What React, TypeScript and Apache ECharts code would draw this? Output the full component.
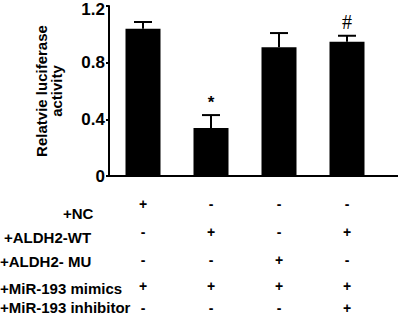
import React, { useEffect, useRef } from "react";
import * as echarts from "echarts";

const categories = ["G1", "G2", "G3", "G4"];
const values = [1.04, 0.339, 0.908, 0.948];
const errors = [0.047, 0.091, 0.101, 0.042];
const marks = ["", "*", "", "#"];
const yTicks = [0, 0.4, 0.8, 1.2];
const rowLabels = ["+NC", "+ALDH2-WT", "+ALDH2- MU", "+MiR-193 mimics", "+MiR-193 inhibitor"];
const signs = [
  ["+", "-", "-", "-"],
  ["-", "+", "-", "+"],
  ["-", "-", "+", "-"],
  ["+", "+", "+", "+"],
  ["-", "-", "-", "+"],
];

const rowLabelPos = [
  { x: 63, y: 213 },
  { x: 4, y: 237 },
  { x: 0, y: 261 },
  { x: 0, y: 288 },
  { x: 0, y: 307 },
];
const signRowY = [204, 232, 260, 286, 308];

const FONT = "Liberation Sans, Arial, sans-serif";

export default function App() {
  const ref = useRef<HTMLDivElement>(null);
  useEffect(() => {
    if (!ref.current) return;
    const chart = echarts.init(ref.current, undefined, { renderer: "svg" });
    const baseGraphic: any[] = [
      {
        type: "line",
        shape: { x1: 380, y1: 176, x2: 398, y2: 176 },
        style: { stroke: "#000", lineWidth: 2 },
      },
      ...rowLabels.map((t, i) => ({
        type: "text",
        x: rowLabelPos[i].x,
        y: rowLabelPos[i].y,
        style: {
          text: t,
          fill: "#000",
          fontFamily: FONT,
          fontWeight: "bold",
          fontSize: 15,
          lineHeight: 12,
          verticalAlign: "middle",
        },
      })),
    ];
    const maxTick = yTicks[yTicks.length - 1];
    const option: any = {
      animation: false,
      backgroundColor: "#ffffff",
      grid: { left: 109, top: 6, width: 272, bottom: 140, outerBoundsMode: "none", containLabel: false },
      xAxis: {
        type: "category",
        data: categories,
        axisLine: { lineStyle: { color: "#000", width: 2 } },
        axisTick: { alignWithLabel: true, length: 5, lineStyle: { color: "#000", width: 2 } },
        axisLabel: { show: false },
      },
      yAxis: {
        type: "value",
        min: yTicks[0],
        max: maxTick,
        interval: 0.4,
        name: "Relatvie luciferase\nactivity",
        nameLocation: "middle",
        nameGap: 45,
        nameTextStyle: {
          color: "#000",
          fontFamily: FONT,
          fontWeight: "bold",
          fontSize: 15,
          lineHeight: 15,
        },
        splitLine: { show: false },
        axisLine: { show: true, lineStyle: { color: "#000", width: 2 } },
        axisTick: { show: true, length: 3, lineStyle: { color: "#000", width: 2 } },
        axisLabel: {
          margin: 4,
          color: "#000",
          fontFamily: FONT,
          fontWeight: "bold",
          fontSize: 17,
          formatter: (v: number) =>
            v === 0 ? "0" : v === maxTick ? "{top|" + v.toFixed(1) + "}" : v.toFixed(1),
          rich: {
            top: {
              fontFamily: FONT,
              fontWeight: "bold",
              fontSize: 17,
              color: "#000",
              padding: [6, 0, 0, 0],
            },
          },
        },
      },
      series: [
        {
          type: "bar",
          data: values,
          barWidth: 35,
          itemStyle: { color: "#000" },
        },
        {
          type: "custom",
          data: values.map((v, i) => [i, v, v + errors[i]]),
          renderItem: (params: any, api: any) => {
            const i = api.value(0);
            const base = api.coord([i, api.value(1)]);
            const top = api.coord([i, api.value(2)]);
            const half = 9;
            const children: any[] = [
              {
                type: "line",
                shape: { x1: base[0], y1: base[1], x2: top[0], y2: top[1] },
                style: { stroke: "#000", lineWidth: 2 },
              },
              {
                type: "line",
                shape: { x1: top[0] - half, y1: top[1], x2: top[0] + half, y2: top[1] },
                style: { stroke: "#000", lineWidth: 2 },
              },
            ];
            const m = marks[params.dataIndex];
            if (m) {
              children.push({
                type: "text",
                x: top[0],
                y: top[1] - 4,
                style: {
                  text: m,
                  fill: "#000",
                  align: "center",
                  verticalAlign: "bottom",
                  fontFamily: m === "#" ? "Liberation Serif, serif" : FONT,
                  fontWeight: m === "#" ? "normal" : "bold",
                  fontSize: m === "#" ? 20 : 17,
                },
              });
            }
            return { type: "group", children };
          },
          z: 5,
        },
      ],
      graphic: baseGraphic,
    };
    chart.setOption(option);
    const signTexts: any[] = [];
    signs.forEach((row, r) => {
      row.forEach((s, c) => {
        const px = chart.convertToPixel({ xAxisIndex: 0 }, categories[c]) as number;
        signTexts.push({
          type: "text",
          x: px,
          y: signRowY[r],
          style: {
            text: s,
            fill: "#000",
            fontFamily: FONT,
            fontWeight: "bold",
            fontSize: 14,
            lineHeight: 10,
            align: "center",
            verticalAlign: "middle",
          },
        });
      });
    });
    chart.setOption({ graphic: [...baseGraphic, ...signTexts] }, { replaceMerge: ["graphic"] });
    return () => chart.dispose();
  }, []);
  return (
    <div
      ref={ref}
      style={{ position: "absolute", left: 0, top: 0, width: 400, height: 316 }}
    />
  );
}
